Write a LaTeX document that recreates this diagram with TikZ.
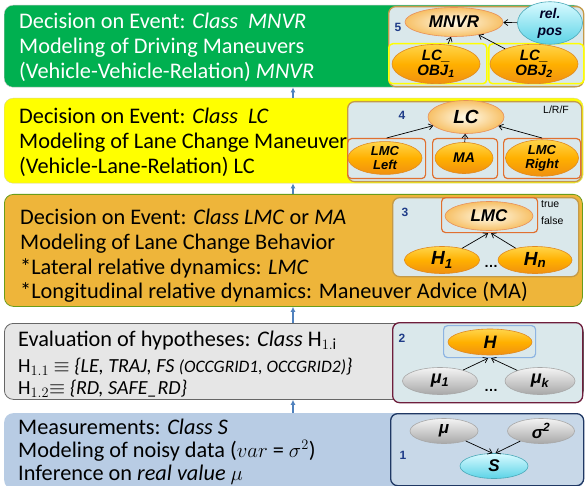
\documentclass[tikz,border=0pt]{standalone}
\usepackage{fontspec}
\setmainfont{Carlito}
\newfontfamily\ef{Liberation Sans}
\usetikzlibrary{shapes.geometric,arrows.meta}
\definecolor{bgreen}{HTML}{00B050}
\definecolor{byellow}{HTML}{FFFF00}
\definecolor{borange}{HTML}{EEB53A}
\definecolor{bgrey}{HTML}{E6E6E6}
\definecolor{bblue}{HTML}{B8CCE4}
\definecolor{panelc}{HTML}{DAE8EB}
\definecolor{panelb}{HTML}{C8D8E8}
\definecolor{tan}{HTML}{C49A48}
\definecolor{maroon}{HTML}{6E1E3C}
\definecolor{navy}{HTML}{1F3864}
\definecolor{numc}{HTML}{1F3C88}
\definecolor{arrblue}{HTML}{4F81BD}
\definecolor{oTop}{HTML}{FFD54A}
\definecolor{oMid}{HTML}{FFB000}
\definecolor{oBot}{HTML}{F09010}
\definecolor{oEdge}{HTML}{E08A20}
\definecolor{pIn}{HTML}{FFFCEC}
\definecolor{pOut}{HTML}{F7C066}
\definecolor{pEdge}{HTML}{E8905A}
\definecolor{gTop}{HTML}{F4F4F4}
\definecolor{gBot}{HTML}{A8A8A8}
\definecolor{cTop}{HTML}{D8FAFF}
\definecolor{cBot}{HTML}{5CD3E6}
\definecolor{boxo}{HTML}{E07030}
\definecolor{boxb}{HTML}{8DB4E2}
\newcommand\efs[2]{\ef\bfseries\itshape\fontsize{#1}{#2}\selectfont}
\begin{document}
\begin{tikzpicture}[x=1pt,y=-1pt,
  band/.style={rectangle, rounded corners=9pt, anchor=north west, inner sep=0pt},
  panel/.style={rectangle, rounded corners=7pt, anchor=north west, fill=panelc, line width=1.3pt, inner sep=0pt},
  txt/.style={anchor=base west, inner sep=0pt, font=\fontsize{22.3}{25}\selectfont},
  stxt/.style={anchor=base west, inner sep=0pt, font=\fontsize{20}{22}\selectfont},
  ellbase/.style={ellipse, inner sep=0pt, align=center},
  ellO/.style={ellbase, top color=oTop, bottom color=oBot, middle color=oMid, draw=oEdge, line width=0.6pt},
  ellP/.style={ellbase, shading=radial, inner color=pIn, outer color=pOut, draw=pEdge, line width=0.6pt},
  ellG/.style={ellbase, top color=gTop, bottom color=gBot, draw=gBot, line width=0.6pt},
  ellC/.style={ellbase, top color=cTop, bottom color=cBot, draw=cBot!80!black, line width=0.6pt},
  ybox/.style={rectangle, rounded corners=4pt, draw=byellow, line width=1.5pt, anchor=north west, inner sep=0pt},
  obox/.style={rectangle, rounded corners=4pt, draw=boxo, line width=1.2pt, anchor=north west, inner sep=0pt},
  bbox/.style={rectangle, rounded corners=4pt, draw=boxb, line width=1.2pt, anchor=north west, inner sep=0pt},
  num/.style={font=\ef\bfseries\fontsize{12}{12}\selectfont, text=numc, inner sep=0pt},
  lbl/.style={font=\ef\fontsize{10.5}{12}\selectfont, inner sep=0pt},
  arr/.style={-{Straight Barb[length=4pt,width=6pt]}, line width=0.7pt},
  uparr/.style={-{Latex[length=5pt,width=5pt]}, line width=1.3pt, draw=arrblue}
]
\useasboundingbox (0,0) rectangle (585,486);
\fill[white] (0,0) rectangle (585,486);
% bands
\node[band, fill=bgreen, draw=gray!45, minimum width=579pt, minimum height=82pt] (b5) at (4,5) {};
\node[band, fill=byellow, draw=olive!35, minimum width=579pt, minimum height=85pt] (b4) at (4,98) {};
\node[band, fill=borange, draw=olive!55!green, line width=0.8pt, minimum width=578pt, minimum height=112pt] (b3) at (4,194) {};
\node[band, fill=bgrey, draw=gray!80!black, line width=0.8pt, minimum width=579pt, minimum height=76pt] (b2) at (4,323) {};
\node[band, fill=bblue, minimum width=579pt, minimum height=76pt] (b1) at (4,413) {};
% arrows between bands
\coordinate (ax) at (293,0);
\draw[uparr] (b4.north -| ax) -- (b5.south -| ax);
\draw[uparr] (b3.north -| ax) -- (b4.south -| ax);
\draw[uparr] (b2.north -| ax) -- (b3.south -| ax);
\draw[uparr] (b1.north -| ax) -- (b2.south -| ax);
% panels
\node[panel, draw=tan, minimum width=195pt, minimum height=80pt] (p5) at (388,6) {};
\node[panel, draw=tan, minimum width=234pt, minimum height=80pt] (p4) at (347,101) {};
\node[panel, draw=tan, minimum width=186pt, minimum height=79pt] (p3) at (392,197) {};
\node[panel, draw=maroon, minimum width=190pt, minimum height=80pt] (p2) at (392,322) {};
\node[panel, draw=navy, fill=panelb, minimum width=193pt, minimum height=72pt] (p1) at (390,413) {};

% ---- panel 5
\node[num] (n5) at (398,27) {5};
\node[ybox, minimum width=98pt, minimum height=40pt] (ob1box) at (388,43) {};
\node[ybox, minimum width=95pt, minimum height=40pt] (ob2box) at (488,43) {};
\node[ellP, minimum width=98pt, minimum height=29pt, font=\efs{17}{17}] (mnvr) at (454,22) {MNVR};
\node[ellC, minimum width=65pt, minimum height=35pt, font=\efs{14}{17}, text=black!85!blue] (relpos) at (550,23) {rel.\\pos};
\node[ellO, minimum width=88pt, minimum height=35pt, font=\efs{15}{15}] (ob1) at (436,64) {LC\_\\OBJ\textsubscript{1}};
\node[ellO, minimum width=88pt, minimum height=35pt, font=\efs{15}{15}] (ob2) at (534,64) {LC\_\\OBJ\textsubscript{2}};
\draw[arr] (relpos) -- (mnvr);
\draw[arr] (ob1.north -| 448,0) -- (mnvr.south -| 451,0);
\draw[arr] (ob2) -- (mnvr);

% ---- panel 4
\node[num] (n4) at (402,115) {4};
\node[lbl] (lrf) at (556,110) {L/R/F};
\node[obox, minimum width=78pt, minimum height=40pt] (lmclbox) at (347,138) {};
\node[obox, minimum width=65pt, minimum height=40pt] (mabox) at (432,138) {};
\node[obox, minimum width=77pt, minimum height=40pt] (lmcrbox) at (503,138) {};
\node[ellP, minimum width=76pt, minimum height=33pt, font=\efs{19}{19}] (lc) at (466,117) {LC};
\node[ellO, minimum width=74pt, minimum height=32pt, font=\efs{13}{14}] (lmcl) at (385,158) {LMC\\Left};
\node[ellO, minimum width=58pt, minimum height=31pt, font=\efs{14}{14}] (ma) at (464,158) {MA};
\node[ellO, minimum width=73pt, minimum height=32pt, font=\efs{13}{14}] (lmcr) at (542,158) {LMC\\Right};
\draw[arr] (lmclbox.north) -- (lc);
\draw[arr] (ma) -- (lc);
\draw[arr] (lmcrbox.north -| lmcr) -- (lc);

% ---- panel 3
\node[num] (n3) at (405,212) {3};
\node[lbl, anchor=west] (tru) at (541,204) {true};
\node[lbl, anchor=west] (fal) at (541,221) {false};
\node[obox, minimum width=96pt, minimum height=35pt] (lmcbox) at (441,197) {};
\node[ellP, minimum width=88pt, minimum height=29pt, font=\efs{17}{17}] (lmc) at (489,216) {LMC};
\node[ellO, minimum width=75pt, minimum height=27pt, font=\efs{19}{19}] (h1) at (442,260) {H\textsubscript{1}};
\node[ellO, minimum width=74pt, minimum height=27pt, font=\efs{19}{19}] (hn) at (535,260) {H\textsubscript{n}};
\node[font=\ef\bfseries\fontsize{14}{14}\selectfont, inner sep=0pt] (d3) at (491,266) {\dots};
\draw[arr] (h1) -- ([xshift=-1.5pt]lmcbox.south);
\draw[arr] (hn) -- ([xshift=1.5pt]lmcbox.south);

% ---- panel 2
\node[num] (n2) at (402,338) {2};
\node[bbox, minimum width=92pt, minimum height=32pt] (hbox) at (443,325) {};
\node[ellO, minimum width=84pt, minimum height=26pt, font=\efs{18}{18}] (hh) at (490,342) {H};
\node[ellG, minimum width=75pt, minimum height=27pt, font=\efs{18}{18}] (mu1) at (440,381) {μ\textsubscript{1}};
\node[ellG, minimum width=70pt, minimum height=27pt, font=\efs{18}{18}] (muk) at (540,381) {μ\textsubscript{k}};
\node[font=\ef\bfseries\fontsize{14}{14}\selectfont, inner sep=0pt] (d2) at (491,390) {\dots};
\draw[arr] (mu1) -- ([xshift=-1.5pt]hbox.south);
\draw[arr] (muk) -- ([xshift=1.5pt]hbox.south);

% ---- panel 1
\node[num] (n1) at (403,455) {1};
\node[ellG, minimum width=68pt, minimum height=25pt, font=\efs{17}{17}] (mu) at (444,431) {μ};
\node[ellG, minimum width=67pt, minimum height=25pt, font=\efs{17}{17}] (sig) at (541,431) {σ\textsuperscript{2}};
\node[ellC, minimum width=68pt, minimum height=25pt, font=\efs{17}{17}] (ss) at (494,466) {S};
\draw[arr] (mu) -- ([xshift=-1.5pt]ss.north);
\draw[arr] (sig) -- ([xshift=1.5pt]ss.north);

% ---- texts
\node[txt, text=white] (t51) at (19,29) {Decision on Event: \textit{Class\ \ MNVR}};
\node[txt, text=white] (t52) at (19,54) {Modeling of Driving Maneuvers};
\node[txt, text=white] (t53) at (19,79) {(Vehicle-Vehicle-Relation) \textit{MNVR}};
\node[txt] (t41) at (19,124) {Decision on Event: \textit{Class\ \ LC}};
\node[txt] (t42) at (19,149) {Modeling of Lane Change Maneuver};
\node[txt] (t43) at (19,174) {(Vehicle-Lane-Relation) LC};
\node[txt] (t31) at (20,224) {Decision on Event: \textit{Class LMC} or \textit{MA}};
\node[txt] (t32) at (20,249) {Modeling of Lane Change Behavior};
\node[txt] (t33) at (20,274) {*Lateral relative dynamics: \textit{LMC}};
\node[txt] (t34) at (20,298) {*Longitudinal relative dynamics: Maneuver Advice (MA)};
\node[txt] (t21) at (18,346) {Evaluation of hypotheses: \textit{Class} $\mathrm{H}_{1.\mathrm{i}}$};
\node[stxt] (t22) at (18,372) {$\mathrm{H}_{1.1}$ $\equiv$ \textit{\{LE, TRAJ, FS {\fontsize{17.5}{18}\selectfont(OCCGRID1, OCCGRID2)}\}}};
\node[stxt] (t23) at (18,394.5) {$\mathrm{H}_{1.2}$$\equiv$ \textit{\{RD, SAFE\_RD\}}};
\node[txt] (t11) at (18,434) {Measurements: \textit{Class S}};
\node[txt] (t12) at (18,457) {Modeling of noisy data ($var$ = $\sigma^2$)};
\node[txt] (t13) at (18,480) {Inference on \textit{real value} $\mu$};
\end{tikzpicture}
\end{document}
